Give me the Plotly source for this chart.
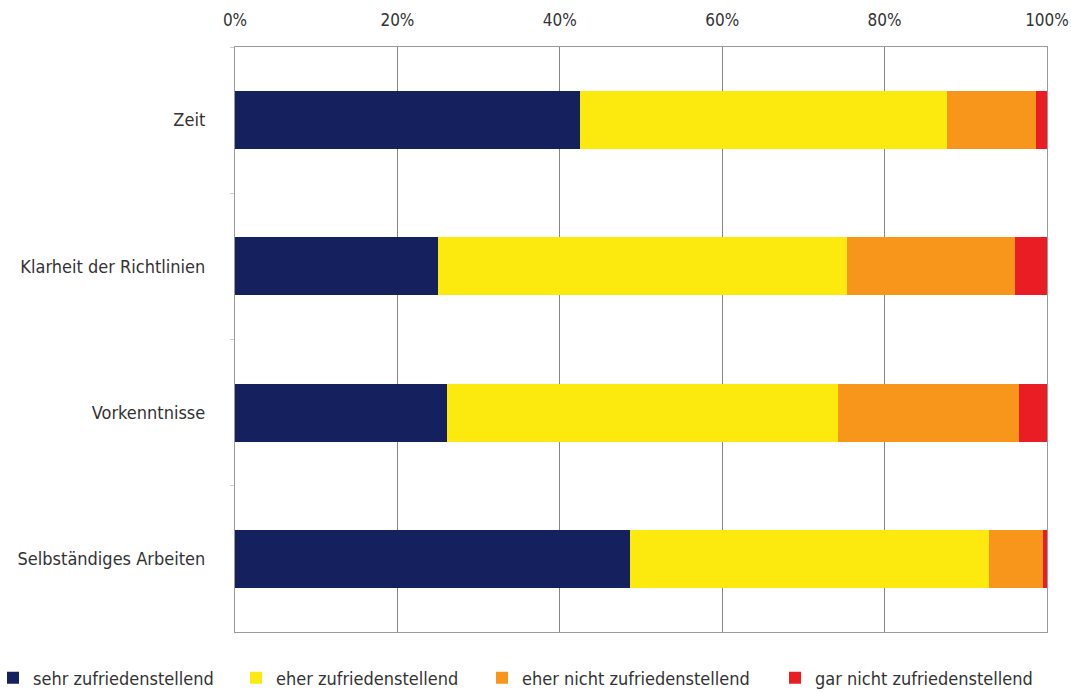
import plotly.graph_objects as go

categories = ["Zeit", "Klarheit der Richtlinien", "Vorkenntnisse", "Selbständiges Arbeiten"]
series_names = ["sehr zufriedenstellend", "eher zufriedenstellend",
                "eher nicht zufriedenstellend", "gar nicht zufriedenstellend"]
sehr = [42.5, 25.0, 26.1, 48.7]
eher = [45.2, 50.4, 48.2, 44.2]
eher_nicht = [10.9, 20.6, 22.3, 6.6]
gar_nicht = [1.4, 4.0, 3.4, 0.5]
x_ticks = [0, 20, 40, 60, 80, 100]
x_tick_labels = ["0%", "20%", "40%", "60%", "80%", "100%"]

colors = ["#15205f", "#fcea0f", "#f8961b", "#ea1c24"]
FONT = "DejaVu Sans Condensed, Liberation Sans Narrow, sans-serif"

W, H = 1071, 693
L, R, T, B = 235, 24, 47, 61
pw = W - L - R
ph = H - T - B

fig = go.Figure()
values = [sehr, eher, eher_nicht, gar_nicht]
legend_names = ["legend", "legend2", "legend3", "legend4"]
for name, vals, col, lg in zip(series_names, values, colors, legend_names):
    fig.add_trace(go.Bar(
        y=categories, x=vals, name=name, orientation="h",
        marker=dict(color=col, line=dict(width=0)),
        legend=lg,
    ))

# desired left edge of each legend swatch (pixels)
legend_px = [8, 251, 497, 790]
legend_common = dict(orientation="h", yanchor="middle", y=-46 / ph,
                     xanchor="left", font=dict(family=FONT, size=18, color="#333333"),
                     bgcolor="rgba(0,0,0,0)", borderwidth=0)
layout_legends = {}
for lg, px in zip(legend_names, legend_px):
    layout_legends[lg] = dict(legend_common, x=(px - 15 - L) / pw)

fig.update_layout(
    barmode="stack",
    bargap=0.603,
    width=W, height=H,
    margin=dict(l=L, r=R, t=T, b=B, autoexpand=False),
    paper_bgcolor="white",
    plot_bgcolor="white",
    font=dict(family=FONT, size=18, color="#333333"),
    showlegend=True,
    xaxis=dict(
        side="top", range=[0, 100], tickvals=x_ticks, ticktext=x_tick_labels,
        showgrid=True, gridcolor="#858585", gridwidth=1.3,
        showline=True, linecolor="#9a9a9a", linewidth=1.3, mirror=True,
        ticks="", zeroline=False, ticklabelstandoff=13,
        tickfont=dict(family=FONT, size=17, color="#333333"),
        automargin=False,
    ),
    yaxis=dict(
        categoryorder="array", categoryarray=categories, autorange="reversed",
        showgrid=False, showline=True, linecolor="#9a9a9a", linewidth=1.3, mirror=True,
        ticks="outside", tickson="boundaries", ticklen=4, tickcolor="#cccccc",
        ticklabelstandoff=25,
        tickfont=dict(family=FONT, size=18, color="#333333"),
        automargin=False,
    ),
    **layout_legends,
)

fig.write_html("out.html",
               config={"displayModeBar": False},
               post_script="document.body.style.margin='0';document.body.style.overflow='hidden';")
